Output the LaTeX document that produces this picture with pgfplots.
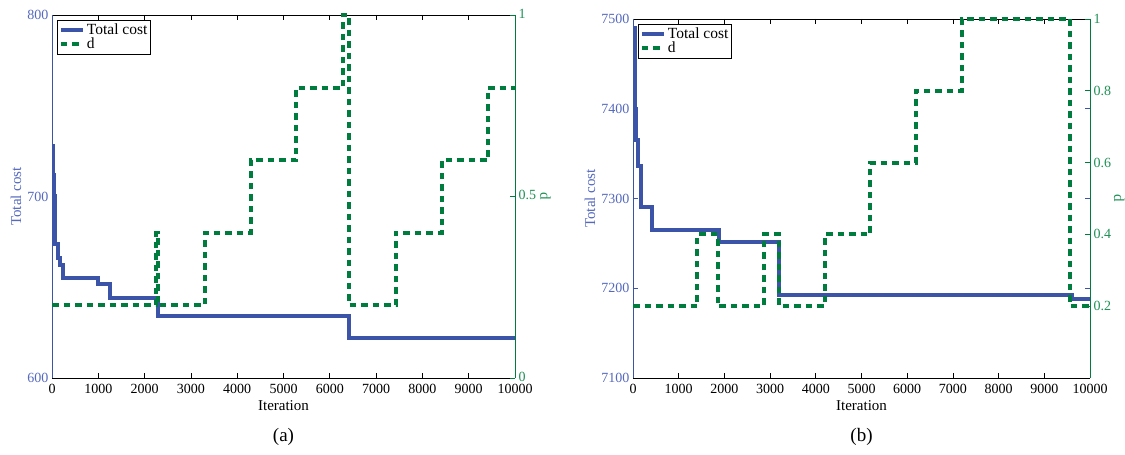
\documentclass[border=0pt]{standalone}
\usepackage{fontspec}
\setmainfont{Liberation Serif}
\usepackage{pgfplots}
\pgfplotsset{compat=1.18}
\definecolor{cblue}{RGB}{60,84,168}
\definecolor{cgreen}{RGB}{0,125,62}
\definecolor{lblue}{RGB}{85,105,190}
\definecolor{lgreen}{RGB}{30,145,85}
\pgfplotsset{
  base/.style={
    scale only axis, xmin=0, xmax=10000,
    /pgf/number format/assume math mode=true,
    /pgf/number format/1000 sep={},
    tick label style={font=\fontsize{14}{14}\selectfont},
    label style={font=\fontsize{15}{15}\selectfont},
    tick align=inside, major tick length=5pt,
    every tick/.style={line width=0.7pt},
    scaled ticks=false,
    xtick={0,1000,...,10000},
    xticklabel style={yshift=-3pt},
  },
  costax/.style={base, separate axis lines,
    x axis line style={black, line width=0.9pt},
    y axis line style={cblue, line width=0.9pt},
    xtick style={black}, ytick style={cblue},
    yticklabel style={lblue},
    ylabel={Total cost}, xlabel={Iteration},
    ylabel style={lblue, anchor=center},
    xlabel style={black, anchor=center},
  },
  dax/.style={base, axis y line*=right, axis x line=none, clip=false,
    ymin=0, ymax=1,
    y axis line style={cgreen, line width=0.9pt},
    ytick style={cgreen}, yticklabel style={lgreen},
    ylabel={d}, ylabel style={lgreen, anchor=center, rotate=180},
    legend cell align=left,
    legend style={at={(0,1)}, anchor=north west, xshift=5pt, yshift=-5pt,
      draw=black, line width=0.9pt, fill=white,
      font=\fontsize{15.5}{15.5}\selectfont, inner sep=1.5pt, row sep=-2pt},
    legend image code/.code={\draw[##1] (0pt,0pt) -- (22pt,0pt);},
  },
  costline/.style={cblue, line width=4pt, const plot},
  dline/.style={cgreen, line width=4pt, const plot, dash pattern=on 6.5pt off 5pt},
}
\begin{document}
\begin{tikzpicture}
\useasboundingbox (0pt,0pt) rectangle (1125pt,455pt);
% ---------------- (a)
\begin{axis}[costax, at={(52pt,77pt)}, anchor=south west, width=463pt, height=363pt,
  ymin=600, ymax=800, ytick={600,700,800},
  ylabel style={at={(-0.078,0.5)}}, xlabel style={at={(0.5,-0.077)}}]
\addplot[costline] coordinates {
 (0,728) (20,712) (40,700) (55,674) (130,666) (170,662) (230,655)
 (1000,652) (1260,644) (2300,634) (6420,622) (10000,622)};
\end{axis}
\begin{axis}[dax, at={(52pt,77pt)}, anchor=south west, width=463pt, height=363pt,
  ytick={0,0.5,1}, ylabel style={at={(1.066,0.5)}},
  yticklabel style={yshift=1.5pt}]
\addlegendimage{costline}
\addlegendentry{Total cost}
\addplot[dline] coordinates {
 (0,0.2) (2240,0.4) (2290,0.2) (3300,0.4) (4290,0.6) (5270,0.8)
 (6290,1.0) (6420,0.2) (7420,0.4) (8420,0.6) (9420,0.8) (10000,0.8)};
\addlegendentry{d}
\end{axis}
\node[font=\fontsize{19}{19}\selectfont] at (283.5pt,18pt) {(a)};
% ---------------- (b)
\begin{axis}[costax, at={(633pt,77pt)}, anchor=south west, width=457pt, height=359pt,
  ymin=7100, ymax=7500, ytick={7100,7200,...,7500},
  ylabel style={at={(-0.094,0.5)}}, xlabel style={at={(0.5,-0.078)}}]
\addplot[costline] coordinates {
 (0,7490) (40,7400) (74,7365) (110,7336) (183,7290) (425,7265)
 (1890,7252) (3200,7192) (9600,7188) (10000,7188)};
\end{axis}
\begin{axis}[dax, at={(633pt,77pt)}, anchor=south west, width=457pt, height=359pt,
  ytick={0.2,0.4,0.6,0.8,1}, ylabel style={at={(1.064,0.5)}}]
\addlegendimage{costline}
\addlegendentry{Total cost}
\addplot[dline] coordinates {
 (0,0.2) (1410,0.4) (1850,0.2) (2870,0.4) (3200,0.2) (4200,0.4)
 (5190,0.6) (6190,0.8) (7200,1.0) (9570,0.2) (10000,0.2)};
\addlegendentry{d}
\end{axis}
\node[font=\fontsize{19}{19}\selectfont] at (861.5pt,18pt) {(b)};
\end{tikzpicture}
\end{document}
